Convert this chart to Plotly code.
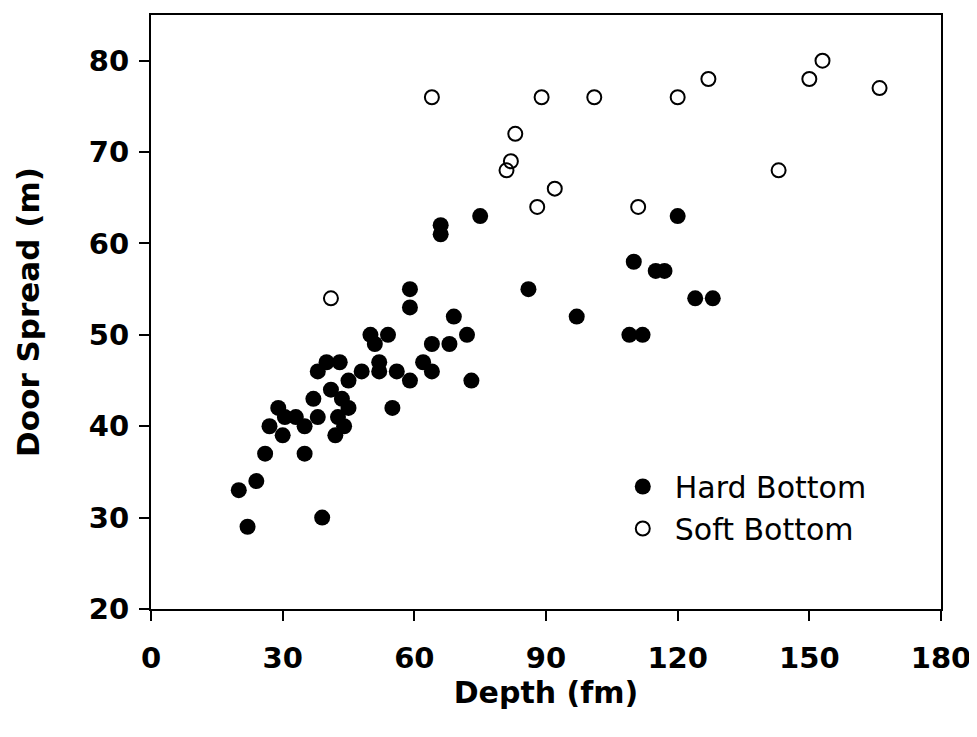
import plotly.graph_objects as go

hard_depth = [20, 22, 24, 26, 27, 29, 30, 30.5, 33, 35, 35, 37, 38, 38, 39, 40, 41, 42, 43, 43.5, 42.6, 44, 45, 45,
              48, 50, 51, 52, 52, 54, 55, 56, 59, 59, 59, 62, 64, 64, 66, 66, 68, 69, 72, 73, 75,
              86, 97, 109, 110, 112, 115, 117, 120, 124, 128]
hard_spread = [33, 29, 34, 37, 40, 42, 39, 41, 41, 40, 37, 43, 46, 41, 30, 47, 44, 39, 47, 43, 41, 40, 45, 42,
               46, 50, 49, 47, 46, 50, 42, 46, 55, 53, 45, 47, 49, 46, 62, 61, 49, 52, 50, 45, 63,
               55, 52, 50, 58, 50, 57, 57, 63, 54, 54]

soft_depth = [41, 64, 81, 82, 83, 88, 89, 92, 101, 111, 120, 127, 143, 150, 153, 166]
soft_spread = [54, 76, 68, 69, 72, 64, 76, 66, 76, 64, 76, 78, 68, 78, 80, 77]

x_ticks = [0, 30, 60, 90, 120, 150, 180]
y_ticks = [20, 30, 40, 50, 60, 70, 80]

font = "DejaVu Sans"

fig = go.Figure()
fig.add_trace(go.Scatter(
    x=hard_depth, y=hard_spread, mode="markers", name="Hard Bottom",
    marker=dict(symbol="circle", size=16, color="black", line=dict(width=0)),
))
fig.add_trace(go.Scatter(
    x=soft_depth, y=soft_spread, mode="markers", name="Soft Bottom",
    marker=dict(symbol="circle-open", size=14, color="black", line=dict(width=2, color="black")),
))

axis_common = dict(
    showgrid=False, zeroline=False, showline=True, linecolor="black", linewidth=2,
    mirror=True, ticks="outside", ticklen=10, tickwidth=2, tickcolor="black",
    tickfont=dict(family=font, size=29, color="black", weight="bold"),
)

fig.update_layout(
    width=977, height=737,
    paper_bgcolor="white", plot_bgcolor="white",
    margin=dict(l=143, r=44, t=5, b=136),
    showlegend=True,
    legend=dict(
        x=0.582, y=0.25, xanchor="left", yanchor="top",
        bgcolor="rgba(0,0,0,0)", borderwidth=0,
        font=dict(family=font, size=30, color="black"),
        itemsizing="trace", tracegroupgap=0, itemwidth=54,
    ),
    xaxis=dict(range=[0, 180], tickvals=x_ticks, ticklabelstandoff=12,
               title=dict(text="Depth (fm)", font=dict(family=font, size=30, color="black", weight="bold"), standoff=8),
               **axis_common),
    yaxis=dict(range=[20, 85], tickvals=y_ticks, ticklabelstandoff=4,
               title=dict(text="Door Spread (m)", font=dict(family=font, size=31, color="black", weight="bold"), standoff=40),
               **axis_common),
)

fig.write_html("out.html")
